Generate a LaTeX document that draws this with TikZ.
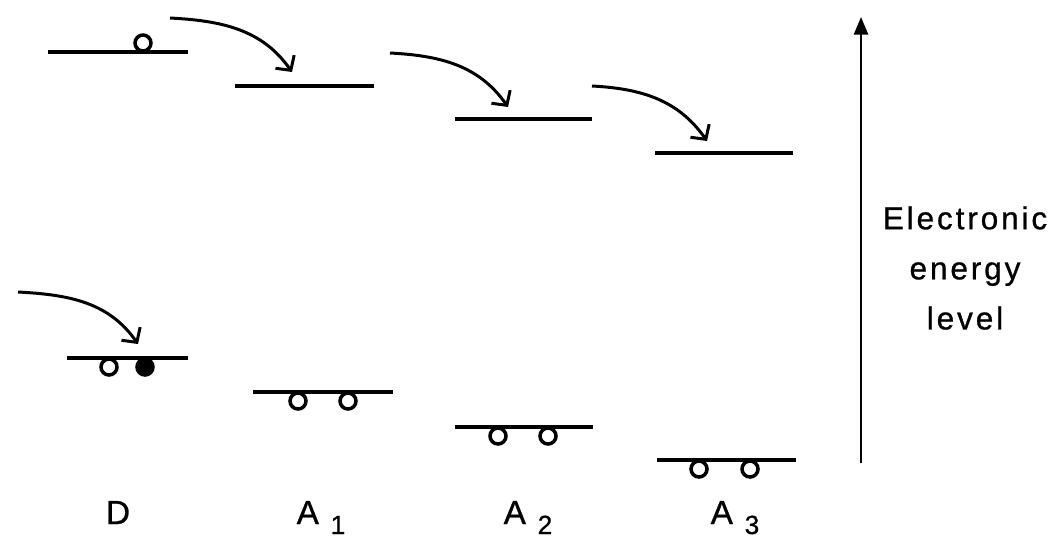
\documentclass[tikz,border=0pt]{standalone}
\usepackage{fontspec}
\setmainfont{Liberation Sans}[FakeBold=0.8]
\usetikzlibrary{arrows.meta}
\begin{document}
\begin{tikzpicture}[x=0.02cm, y=-0.02cm,
  level/.style={line width=2.2pt},
  hole/.style={draw, circle, line width=2pt, fill=white, minimum size=0.32cm, inner sep=0pt},
  electron/.style={hole, fill=black},
  hop/.style={line width=1.7pt, -{Straight Barb[length=6pt, width=13pt, line width=1.7pt]}},
  lab/.style={font=\fontsize{19}{19}\selectfont, anchor=base}]
\useasboundingbox (0,0) rectangle (1053,538);
% upper levels
\draw[level] (48,52) -- (188,52);
\draw[level] (235,86) -- (374,86);
\draw[level] (455,119) -- (592,119);
\draw[level] (655,153) -- (793,153);
% lower levels
\draw[level] (67,358) -- (188,358);
\draw[level] (253,392) -- (393,392);
\draw[level] (455,427) -- (593,427);
\draw[level] (657,460) -- (796,460);
% holes and electrons
\node[hole] (hD) at (143,43) {};
\node[hole] (hD1) at (109,367) {};
\node[electron] (eD) at (145,367) {};
\node[hole] (h11) at (298,401) {};
\node[hole] (h12) at (348,401) {};
\node[hole] (h21) at (498,436) {};
\node[hole] (h22) at (548,436) {};
\node[hole] (h31) at (699,469) {};
\node[hole] (h32) at (750,469) {};
% transfer arrows
\coordinate (s0) at (18,292);
\coordinate (t0) at (138,344);
\coordinate (s1) at (170,18);
\coordinate (t1) at (292,72);
\coordinate (s2) at (390,53);
\coordinate (t2) at (508,107);
\coordinate (s3) at (592,86);
\coordinate (t3) at (707,141);
\draw[hop] (s0) to[out=-3, in=125] (t0);
\draw[hop] (s1) to[out=-3, in=125] (t1);
\draw[hop] (s2) to[out=-3, in=125] (t2);
\draw[hop] (s3) to[out=-3, in=125] (t3);
% labels
\node[lab] (D) at (118,524) {D};
\node[lab] (A1) at (321,524) {A\kern0.35em\raisebox{-0.3em}{\fontsize{15}{15}\selectfont 1}};
\node[lab] (A2) at (528,524) {A\kern0.35em\raisebox{-0.3em}{\fontsize{15}{15}\selectfont 2}};
\node[lab] (A3) at (735,524) {A\kern0.35em\raisebox{-0.3em}{\fontsize{15}{15}\selectfont 3}};
% energy axis
\coordinate (ax0) at (861,463);
\coordinate (ax1) at (861,17);
\draw[line width=1.4pt, -{Triangle[length=10pt, width=8pt]}] (ax0) -- (ax1);
\node[align=center, font=\fontsize{18}{28.5}\addfontfeatures{LetterSpace=9}\selectfont] (E) at (965,268) {Electronic\\energy\\level};
\end{tikzpicture}
\end{document}
